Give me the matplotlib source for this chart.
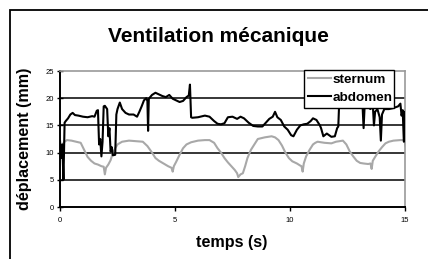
import matplotlib
matplotlib.use("Agg")
import matplotlib.pyplot as plt
from matplotlib.patches import Rectangle

plt.rcParams['font.family'] = ['Liberation Sans', 'DejaVu Sans']

title = "Ventilation mécanique"
xlabel = "temps (s)"
ylabel = "déplacement (mm)"
xticks = [0, 5, 10, 15]
yticks = [0, 5, 10, 15, 20, 25]

sternum_t = [0.0, 0.1, 0.2, 0.3, 0.5, 0.7, 0.9, 1.05, 1.2, 1.35, 1.5, 1.65, 1.8, 1.9, 1.95, 2.0, 2.1, 2.2, 2.3, 2.4, 2.5,
             2.7, 3.0, 3.3, 3.6, 3.8, 4.0, 4.15, 4.3, 4.5, 4.7, 4.85, 4.9, 4.95, 5.05, 5.2, 5.35, 5.5, 5.7, 6.0, 6.3, 6.5,
             6.7, 6.85, 7.0, 7.15, 7.3, 7.45, 7.6, 7.7, 7.75, 7.85, 7.95, 8.05, 8.15, 8.3, 8.45, 8.6, 8.9, 9.2, 9.35, 9.5,
             9.65, 9.8, 9.95, 10.1, 10.3, 10.45, 10.5, 10.55, 10.6, 10.7, 10.85, 11.0, 11.1, 11.2, 11.5, 11.8, 12.0,
             12.3, 12.45, 12.6, 12.75, 12.9, 13.05, 13.2, 13.4, 13.5, 13.55, 13.6, 13.7, 13.85, 14.0, 14.15, 14.3,
             14.5, 14.8, 15.0]
sternum_v = [10.5, 11.5, 12.0, 12.3, 12.2, 12.0, 11.8, 10.5, 9.2, 8.5, 8.0, 7.8, 7.5, 7.4, 6.0, 7.2, 7.8, 8.6, 10.0, 10.8, 11.5,
             12.0, 12.2, 12.1, 12.0, 11.2, 10.0, 9.0, 8.5, 8.0, 7.5, 7.2, 6.5, 7.5, 8.3, 9.6, 10.8, 11.5, 11.9, 12.2, 12.3, 12.3,
             11.8, 10.8, 10.0, 9.0, 8.2, 7.5, 6.8, 6.2, 5.5, 6.0, 6.2, 7.5, 9.0, 10.5, 11.5, 12.5, 12.8, 13.0, 12.8, 12.3,
             11.3, 10.0, 9.0, 8.4, 8.0, 7.6, 7.5, 6.5, 8.0, 9.3, 10.5, 11.5, 11.8, 12.0, 11.8, 11.7, 12.0,
             12.2, 11.5, 10.2, 9.3, 8.5, 8.1, 8.0, 7.9, 8.0, 7.0, 8.5, 9.2, 10.2, 11.0, 11.7, 12.0,
             12.2, 12.3, 12.3]

abdomen_t = [0.0, 0.05, 0.1, 0.15, 0.2, 0.25, 0.35, 0.45, 0.55, 0.65, 0.8, 1.0, 1.2, 1.4, 1.5, 1.6, 1.65, 1.7, 1.75,
             1.8, 1.85, 1.9, 1.95, 2.05, 2.1, 2.15, 2.2, 2.25, 2.3, 2.4, 2.45, 2.5, 2.6, 2.7, 2.85, 3.0, 3.2, 3.35,
             3.45, 3.55, 3.65, 3.75, 3.8, 3.83, 3.86, 3.9, 4.0, 4.15, 4.3, 4.45, 4.6, 4.75, 4.9, 5.05, 5.2, 5.35,
             5.5, 5.6, 5.65, 5.7, 5.75, 6.0, 6.3, 6.5, 6.7, 6.85, 7.0, 7.15, 7.3, 7.5, 7.7, 7.85, 8.0, 8.2, 8.4,
             8.6, 8.8, 8.95, 9.1, 9.25, 9.35, 9.45, 9.6, 9.75, 9.9, 10.05, 10.15, 10.3, 10.45, 10.6, 10.75, 10.9,
             11.0, 11.15, 11.3, 11.35, 11.45, 11.6, 11.8, 11.95, 12.05, 12.1, 12.15, 12.4, 12.8, 13.1, 13.15,
             13.2, 13.25, 13.35, 13.5, 13.6, 13.65, 13.7, 13.8, 13.9, 13.95, 14.0, 14.1, 14.3, 14.5, 14.7, 14.8,
             14.85, 14.9, 14.95, 15.0, 15.05]
abdomen_v = [12.2, 9.0, 11.5, 5.0, 15.5, 15.8, 16.3, 17.0, 17.3, 16.9, 16.8, 16.6, 16.5, 16.7, 16.6, 17.7, 17.8, 11.5, 12.5,
             9.3, 12.0, 18.5, 18.6, 18.0, 13.0, 14.5, 10.2, 11.0, 9.5, 9.6, 17.0, 18.0, 19.2, 18.0, 17.3, 17.0, 17.0, 16.6,
             17.5, 18.5, 19.6, 20.0, 19.5, 14.0, 19.8, 20.1, 20.6, 21.0, 20.7, 20.4, 20.2, 20.6, 19.9, 19.6, 19.3, 19.5,
             20.2, 20.5, 22.5, 16.5, 16.4, 16.5, 16.8, 16.6, 15.8, 15.3, 15.2, 15.4, 16.5, 16.6, 16.2, 16.6, 16.3, 15.5, 14.9,
             14.8, 14.8, 15.5, 16.2, 16.6, 17.5, 16.5, 16.0, 14.8, 14.2, 13.2, 13.0, 14.2, 15.0, 15.2, 15.3, 15.8,
             16.3, 16.0, 15.0, 14.5, 13.0, 13.5, 12.9, 13.0, 14.5, 14.8, 20.5, 22.0, 22.0, 21.0, 19.0,
             14.5, 19.0, 18.5, 18.0, 18.8, 15.0, 17.5, 18.0, 16.5, 12.2, 17.0, 18.0, 18.0, 18.2, 18.5, 19.0,
             16.8, 17.8, 12.0, 17.5, 10.2]

fig = plt.figure(figsize=(4.28, 2.59), dpi=100)
ax = fig.add_axes([60/428, 1-207/259, 345/428, 136/259])

ax.plot(sternum_t, sternum_v, color='#a8a8a8', lw=1.5, label='sternum', zorder=3)
ax.plot(abdomen_t, abdomen_v, color='black', lw=1.5, label='abdomen', zorder=3)

ax.set_xlim(0, 15)
ax.set_ylim(0, 25)
ax.set_xticks(xticks)
ax.set_yticks(yticks)
ax.tick_params(axis='both', labelsize=5.5, width=1, pad=2)
ax.tick_params(axis='y', direction='inout', length=5)
ax.tick_params(axis='x', direction='out', length=3, pad=4)
for y in yticks[1:-1]:
    ax.axhline(y, color='black', lw=1.1, zorder=1)
ax.spines['top'].set_color('#999999')
ax.spines['right'].set_color('#999999')
ax.spines['top'].set_linewidth(1.2)
ax.spines['right'].set_linewidth(1.2)
ax.spines['left'].set_linewidth(1.4)
ax.spines['bottom'].set_linewidth(1.4)

leg = ax.legend(loc='upper left', bbox_to_anchor=((304-60)/345, 1.01, (394-304)/345, 0),
                mode='expand', fontsize=9.7, frameon=True, fancybox=False, framealpha=1,
                edgecolor='black', handlelength=1.7, handletextpad=0.1, borderpad=0.3,
                labelspacing=0.4, borderaxespad=0)
for t in leg.get_texts():
    t.set_fontweight('bold')
leg.get_frame().set_linewidth(1.0)
leg.set_zorder(5)

fig.text(218/428, 1-37/259, title, ha='center', va='center', fontsize=15, fontweight='bold')
fig.text(232/428, 1-243/259, xlabel, ha='center', va='center', fontsize=11.6, fontweight='bold')
fig.text(25/428, 1-139/259, ylabel, ha='center', va='center', fontsize=11.6, fontweight='bold', rotation=90)

fig.patches.append(Rectangle((10/428, -0.2), 1.2, 1-10/259+0.2, transform=fig.transFigure,
                             fill=False, edgecolor='black', lw=1.3))

fig.savefig('out.png', dpi=100)
